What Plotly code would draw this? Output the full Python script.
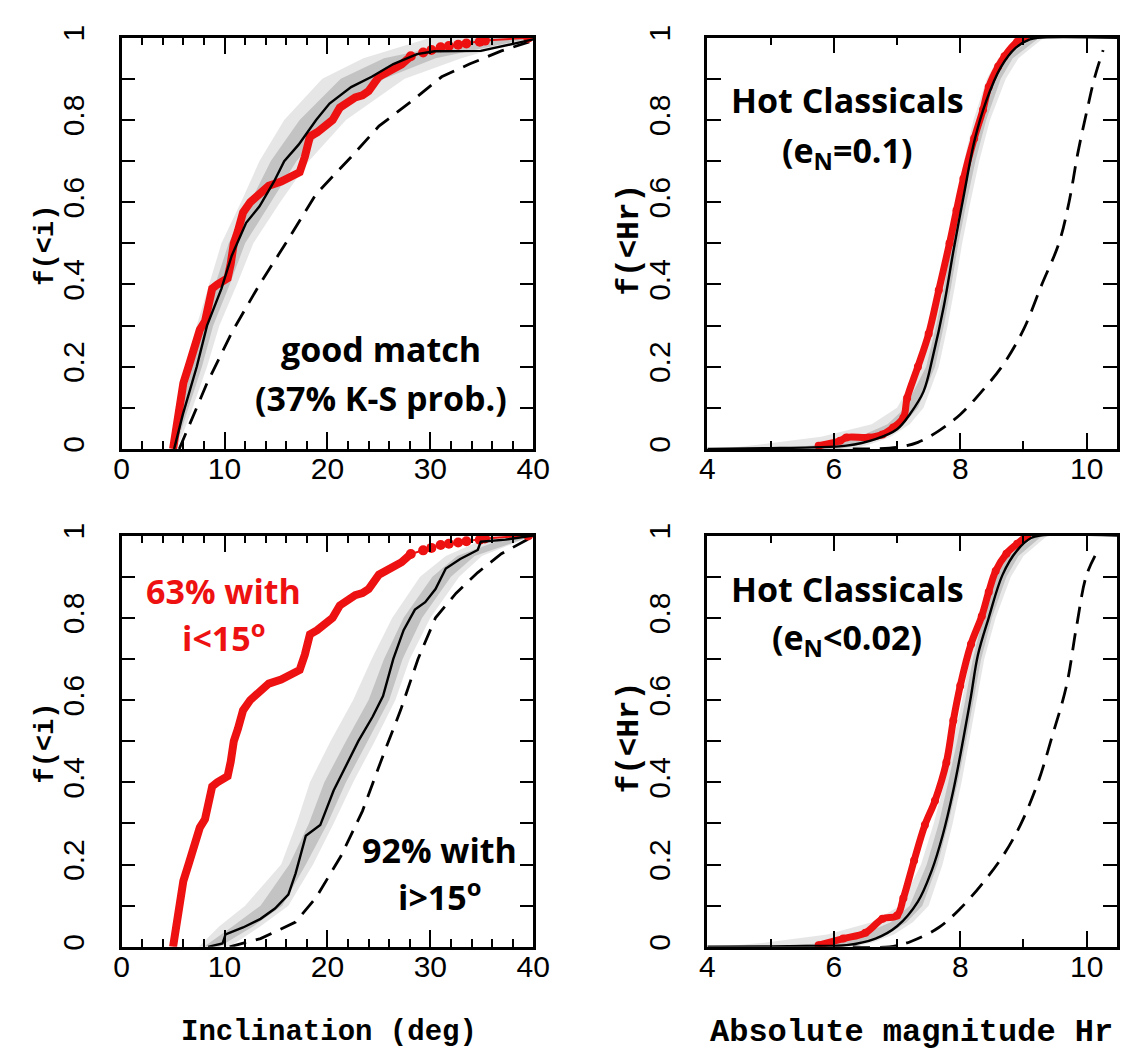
import plotly.graph_objects as go

# ---------------- data ----------------
# observed inclination CDF (red) - same sample in both left panels
inc_obs_x = [5.0, 5.5, 6.0, 6.5, 7.0, 7.6, 8.1, 8.5, 8.8, 9.3, 10.3, 10.6, 10.9, 11.3, 11.8, 12.5, 13.5,
             14.3, 15.5, 16.5, 17.3, 17.8, 18.3, 19.0, 19.6, 20.5, 21.2, 21.8, 22.7, 23.4, 24.0, 25.0,
             26.3, 27.2, 28.1, 29.3, 30.1, 31.0, 31.8, 32.7, 33.5, 34.8, 35.3, 39.5]
inc_obs_y = [0.0, 0.07, 0.16, 0.2, 0.24, 0.29, 0.31, 0.37, 0.39, 0.40, 0.415, 0.45, 0.50, 0.53, 0.575,
             0.60, 0.626, 0.64, 0.65, 0.66, 0.673, 0.71, 0.76, 0.77, 0.78, 0.80, 0.83, 0.84, 0.855, 0.86,
             0.87, 0.905, 0.92, 0.935, 0.955, 0.964, 0.97, 0.977, 0.98, 0.983, 0.986, 0.99, 0.993, 1.0]
inc_dots_from = 34  # index where the sparse tail (dots) begins

# top-left model (good match)
tl_model_x = [5.1, 5.95, 7.3, 8.3, 9.7, 10.7, 12.1, 13.4, 14.8, 15.8, 17.2, 18.9, 20.2, 22.3, 24.3, 26.4,
              28.7, 30.4, 34.9, 37.2, 40]
tl_model_y = [0, 0.084, 0.2, 0.3, 0.39, 0.47, 0.55, 0.59, 0.65, 0.70, 0.74, 0.80, 0.84, 0.88, 0.905,
              0.936, 0.96, 0.967, 0.968, 0.98, 0.996]
tl_intr_x = [5.6, 8.3, 10.7, 13.4, 16.2, 18.9, 22.3, 25.0, 28.4, 31.1, 33.8, 36.9, 39.6]
tl_intr_y = [0.0, 0.16, 0.283, 0.40, 0.51, 0.62, 0.71, 0.785, 0.85, 0.905, 0.936, 0.968, 0.99]
tl_band_y = [0, 0.1, 0.2, 0.3, 0.4, 0.5, 0.6, 0.7, 0.8, 0.9, 0.95, 1.0]
tl_outer_lo = [4.9, 5.5, 6.4, 7.3, 8.5, 9.7, 11.6, 13.4, 15.8, 19.5, 23.5, 30]
tl_outer_hi = [5.4, 6.9, 8.3, 9.5, 11.2, 12.8, 15.4, 18.2, 21.8, 27.5, 33, 40]
tl_inner_lo = [5.0, 5.8, 6.8, 7.8, 9.1, 10.4, 12.5, 14.5, 17.3, 21.3, 25.5, 35]
tl_inner_hi = [5.2, 6.5, 7.8, 8.9, 10.5, 12.0, 14.5, 17.0, 20.3, 25.5, 30.5, 40]

# bottom-left model (hot classicals)
bl_model_x = [8.4, 9.8, 10.1, 11.8, 13.5, 14.9, 16.2, 16.9, 17.9, 19.3, 20.6, 22.0, 23.0, 24.4, 25.4,
              26.4, 27.4, 28.5, 29.5, 30.5, 31.5, 32.9, 34.6, 34.9, 37.3, 40]
bl_model_y = [0, 0.008, 0.03, 0.047, 0.068, 0.093, 0.127, 0.178, 0.27, 0.296, 0.38, 0.45, 0.5, 0.56,
              0.61, 0.70, 0.77, 0.82, 0.838, 0.87, 0.92, 0.943, 0.965, 0.985, 0.99, 1.0]
bl_intr_x = [10.5, 13.5, 16.9, 18.9, 21.3, 23.4, 25.4, 27.1, 28.8, 30.5, 32.5, 34.6, 36.9, 39.7]
bl_intr_y = [0.0, 0.02, 0.06, 0.12, 0.22, 0.33, 0.465, 0.575, 0.70, 0.80, 0.86, 0.91, 0.956, 0.994]
bl_band_y = [0, 0.05, 0.1, 0.2, 0.3, 0.4, 0.5, 0.6, 0.7, 0.8, 0.9, 0.95, 1.0]
bl_outer_lo = [7.5, 9.5, 12.0, 15.5, 17.0, 18.3, 20.3, 22.5, 24.3, 26.3, 29.0, 31.5, 36]
bl_outer_hi = [10.5, 13.5, 16.2, 18.6, 20.6, 22.5, 24.6, 26.6, 28.0, 30.0, 32.8, 35, 40]
bl_inner_lo = [8.0, 10.8, 13.5, 16.3, 18.2, 19.7, 21.8, 24.0, 25.5, 27.4, 30.2, 32.6, 38]
bl_inner_hi = [9.5, 12.8, 15.6, 17.9, 20.0, 21.8, 23.9, 26.0, 27.3, 29.2, 32.0, 34.3, 40]

# top-right (e_N = 0.1) absolute magnitude
tr_obs_x = [5.76, 6.1, 6.2, 6.55, 6.77, 6.94, 7.1, 7.16, 7.33, 7.5, 7.66, 7.83, 7.94, 8.05, 8.22, 8.36,
            8.45, 8.6, 8.7, 8.9, 9.03]
tr_obs_y = [0.008, 0.02, 0.028, 0.028, 0.035, 0.052, 0.076, 0.124, 0.20, 0.28, 0.386, 0.50, 0.58, 0.657,
            0.755, 0.825, 0.88, 0.93, 0.955, 0.99, 1.0]
tr_model_x = [4.0, 5.0, 5.65, 6.2, 6.66, 7.0, 7.2, 7.42, 7.57, 7.74, 7.89, 8.06, 8.23, 8.41, 8.64, 8.88,
              9.1, 9.22, 10.48]
tr_model_y = [0.0, 0.002, 0.004, 0.008, 0.024, 0.048, 0.084, 0.14, 0.227, 0.347, 0.48, 0.62, 0.753,
              0.846, 0.928, 0.976, 0.996, 1.0, 1.0]
tr_intr_x = [6.3, 7.0, 7.33, 7.66, 8.0, 8.34, 8.67, 9.0, 9.29, 9.56, 9.72, 9.86, 10.0, 10.12, 10.26]
tr_intr_y = [0.0, 0.004, 0.016, 0.044, 0.084, 0.14, 0.203, 0.29, 0.40, 0.50, 0.60, 0.72, 0.82, 0.90, 0.97]

# bottom-right (e_N < 0.02) absolute magnitude
br_obs_x = [5.76, 6.15, 6.5, 6.77, 7.0, 7.1, 7.27, 7.44, 7.6, 7.78, 7.89, 8.0, 8.17, 8.34, 8.45, 8.56,
            8.73, 8.9, 9.06]
br_obs_y = [0.004, 0.02, 0.034, 0.068, 0.076, 0.118, 0.21, 0.296, 0.355, 0.448, 0.55, 0.635, 0.736,
            0.804, 0.863, 0.914, 0.956, 0.98, 1.0]
br_model_x = [4.0, 5.0, 5.65, 6.2, 6.66, 7.0, 7.33, 7.55, 7.72, 7.89, 8.05, 8.17, 8.28, 8.45, 8.67, 8.9,
              9.12, 9.26, 10.48]
br_model_y = [0.0, 0.001, 0.002, 0.004, 0.02, 0.05, 0.11, 0.186, 0.27, 0.38, 0.507, 0.61, 0.71, 0.80,
              0.905, 0.964, 0.994, 1.0, 1.0]
br_intr_x = [6.3, 6.88, 7.22, 7.66, 8.0, 8.34, 8.67, 8.95, 9.23, 9.45, 9.68, 9.84, 10.0, 10.2]
br_intr_y = [0.0, 0.0, 0.013, 0.047, 0.093, 0.152, 0.22, 0.296, 0.40, 0.51, 0.635, 0.78, 0.905, 0.97]

# bands for the magnitude panels
mag_band_y = [0.0, 0.01, 0.03, 0.06, 0.1, 0.2, 0.3, 0.4, 0.5, 0.6, 0.7, 0.8, 0.9, 0.95, 1.0]
tr_outer_lo = [4.2, 4.8, 5.8, 6.6, 7.0, 7.38, 7.55, 7.69, 7.81, 7.93, 8.06, 8.21, 8.42, 8.6, 9.12]
tr_outer_hi = [6.3, 6.55, 6.9, 7.2, 7.42, 7.66, 7.8, 7.92, 8.03, 8.16, 8.3, 8.47, 8.72, 8.92, 9.32]
tr_inner_lo = [5.0, 5.8, 6.4, 6.85, 7.13, 7.46, 7.62, 7.75, 7.87, 8.0, 8.12, 8.27, 8.49, 8.67, 9.17]
tr_inner_hi = [6.1, 6.4, 6.8, 7.1, 7.33, 7.6, 7.74, 7.86, 7.97, 8.1, 8.24, 8.41, 8.64, 8.83, 9.25]
br_outer_lo = [4.2, 4.9, 5.9, 6.6, 7.05, 7.38, 7.58, 7.75, 7.89, 8.03, 8.15, 8.3, 8.5, 8.68, 9.18]
br_outer_hi = [6.3, 6.6, 6.95, 7.25, 7.5, 7.72, 7.88, 8.02, 8.14, 8.26, 8.38, 8.56, 8.8, 9.0, 9.38]
br_inner_lo = [5.0, 5.9, 6.45, 6.9, 7.2, 7.47, 7.66, 7.81, 7.95, 8.08, 8.2, 8.36, 8.57, 8.76, 9.22]
br_inner_hi = [6.1, 6.45, 6.85, 7.15, 7.4, 7.64, 7.81, 7.96, 8.09, 8.21, 8.33, 8.5, 8.73, 8.92, 9.3]

y_tickvals = [0, 0.2, 0.4, 0.6, 0.8, 1.0]
y_ticktext = ["0", "0.2", "0.4", "0.6", "0.8", "1"]
inc_ticks = [0, 10, 20, 30, 40]
mag_ticks = [4, 6, 8, 10]

# ---------------- figure ----------------
W, H = 1129, 1053
RED = "#ee1111"
fig = go.Figure()


def band(xa, ya, lo, hi, ys, color):
    fig.add_trace(go.Scatter(x=list(lo) + list(hi)[::-1], y=list(ys) + list(ys)[::-1],
                             fill="toself", fillcolor=color, mode="none",
                             xaxis=xa, yaxis=ya, showlegend=False, hoverinfo="skip"))


def panel(xa, ya, outer_lo, outer_hi, inner_lo, inner_hi, by, mx, my, ix, iy, ox, oy, split, smooth):
    band(xa, ya, outer_lo, outer_hi, by, "rgba(205,205,205,0.5)")
    band(xa, ya, inner_lo, inner_hi, by, "rgba(160,160,160,0.5)")
    fig.add_trace(go.Scatter(x=ix, y=iy, mode="lines", xaxis=xa, yaxis=ya, showlegend=False,
                             line=dict(color="black", width=2.8, dash="17px,10px"),
                             line_shape="spline" if smooth else "linear"))
    if split is None:
        fig.add_trace(go.Scatter(x=ox, y=oy, mode="lines+markers", xaxis=xa, yaxis=ya, showlegend=False,
                                 line=dict(color=RED, width=7, shape="spline"),
                                 marker=dict(color=RED, size=8)))
    else:
        fig.add_trace(go.Scatter(x=ox[:split + 1], y=oy[:split + 1], mode="lines", xaxis=xa, yaxis=ya,
                                 showlegend=False, line=dict(color=RED, width=8)))
        fig.add_trace(go.Scatter(x=ox[split:], y=oy[split:], mode="lines+markers", xaxis=xa, yaxis=ya,
                                 showlegend=False, line=dict(color=RED, width=2),
                                 marker=dict(color=RED, size=10)))
    fig.add_trace(go.Scatter(x=mx, y=my, mode="lines", xaxis=xa, yaxis=ya, showlegend=False,
                             line=dict(color="black", width=2.4),
                             line_shape="spline" if smooth else "linear"))


panel("x", "y", tl_outer_lo, tl_outer_hi, tl_inner_lo, tl_inner_hi, tl_band_y,
      tl_model_x, tl_model_y, tl_intr_x, tl_intr_y, inc_obs_x, inc_obs_y, inc_dots_from, False)
panel("x2", "y2", tr_outer_lo, tr_outer_hi, tr_inner_lo, tr_inner_hi, mag_band_y,
      tr_model_x, tr_model_y, tr_intr_x, tr_intr_y, tr_obs_x, tr_obs_y, None, True)
panel("x3", "y3", bl_outer_lo, bl_outer_hi, bl_inner_lo, bl_inner_hi, bl_band_y,
      bl_model_x, bl_model_y, bl_intr_x, bl_intr_y, inc_obs_x, inc_obs_y, inc_dots_from, False)
panel("x4", "y4", br_outer_lo, br_outer_hi, br_inner_lo, br_inner_hi, mag_band_y,
      br_model_x, br_model_y, br_intr_x, br_intr_y, br_obs_x, br_obs_y, None, True)

# pixel geometry
LX0, LX1 = 108, 529
RX0, RX1 = 707, 1126
TY0, TY1 = 17, 435
BY0, BY1 = 523, 941


def hdom(a, b):
    return [a / W, b / W]


def vdom(top, bot):
    return [1 - bot / H, 1 - top / H]


tickfont = dict(family="Liberation Sans, Arial, sans-serif", size=30, color="black")
common_x = dict(showline=True, linecolor="black", linewidth=2.5, mirror="ticks", ticks="inside",
                tickcolor="black", tickwidth=2.2, showgrid=False, zeroline=False, tickfont=tickfont,
                ticklabelstandoff=-9)
common_y = dict(showline=True, linecolor="black", linewidth=2.5, mirror="ticks", ticks="inside",
                tickcolor="black", tickwidth=2.2, ticklen=14, showgrid=False, zeroline=False,
                tickfont=tickfont, range=[0, 1], tickvals=y_tickvals, ticktext=y_ticktext,
                tickangle=-90, ticklabelstandoff=23,
                minor=dict(dtick=0.1, tick0=0, ticks="inside", ticklen=14, tickwidth=2.2, tickcolor="black"))

inc_x = dict(common_x, range=[0, 40], tickvals=inc_ticks, ticklen=17,
             minor=dict(dtick=2, tick0=0, ticks="inside", ticklen=8, tickwidth=2.2, tickcolor="black"))
mag_x = dict(common_x, range=[4, 10.48], tickvals=mag_ticks, ticklen=16,
             minor=dict(dtick=1, tick0=0, ticks="inside", ticklen=8, tickwidth=2.2, tickcolor="black"))

fig.update_layout(
    width=W, height=H, margin=dict(l=0, r=0, t=0, b=0),
    paper_bgcolor="white", plot_bgcolor="white", showlegend=False,
    xaxis=dict(inc_x, domain=hdom(LX0, LX1), anchor="y"),
    yaxis=dict(common_y, domain=vdom(TY0, TY1), anchor="x"),
    xaxis2=dict(mag_x, domain=hdom(RX0, RX1), anchor="y2"),
    yaxis2=dict(common_y, domain=vdom(TY0, TY1), anchor="x2"),
    xaxis3=dict(inc_x, domain=hdom(LX0, LX1), anchor="y3"),
    yaxis3=dict(common_y, domain=vdom(BY0, BY1), anchor="x3"),
    xaxis4=dict(mag_x, domain=hdom(RX0, RX1), anchor="y4"),
    yaxis4=dict(common_y, domain=vdom(BY0, BY1), anchor="x4"),
)

ann_font = dict(family="Open Sans, sans-serif", size=34, color="black")
mono = dict(family="Liberation Mono, Courier New, monospace", color="black")
annotations = [
    dict(x=25.2, y=0.243, xref="x", yref="y", text="<b>good match</b>", font=ann_font),
    dict(x=25.2, y=0.124, xref="x", yref="y", text="<b>(37% K-S prob.)</b>", font=ann_font),
    dict(x=6.21, y=0.849, xref="x2", yref="y2", text="<b>Hot Classicals</b>", font=ann_font),
    dict(x=6.21, y=0.721, xref="x2", yref="y2", text="<b>(e<sub>N</sub>=0.1)</b>", font=ann_font),
    dict(x=9.9, y=0.866, xref="x3", yref="y3", text="<b>63% with</b>", font=dict(ann_font, color=RED)),
    dict(x=9.9, y=0.755, xref="x3", yref="y3", text="<b>i&lt;15<sup>o</sup></b>", font=dict(ann_font, color=RED)),
    dict(x=30.9, y=0.236, xref="x3", yref="y3", text="<b>92% with</b>", font=ann_font),
    dict(x=30.9, y=0.125, xref="x3", yref="y3", text="<b>i&gt;15<sup>o</sup></b>", font=ann_font),
    dict(x=6.21, y=0.871, xref="x4", yref="y4", text="<b>Hot Classicals</b>", font=ann_font),
    dict(x=6.21, y=0.749, xref="x4", yref="y4", text="<b>(e<sub>N</sub>&lt;0.02)</b>", font=ann_font),
    # axis titles
    dict(x=31 / W, y=1 - 228 / H, xref="paper", yref="paper", text="<b>f(&lt;i)</b>", textangle=-90,
         font=dict(mono, size=27)),
    dict(x=31 / W, y=1 - 734 / H, xref="paper", yref="paper", text="<b>f(&lt;i)</b>", textangle=-90,
         font=dict(mono, size=27)),
    dict(x=627 / W, y=1 - 222 / H, xref="paper", yref="paper", text="<b>f(&lt;Hr)</b>", textangle=-90,
         font=dict(mono, size=31)),
    dict(x=627 / W, y=1 - 728 / H, xref="paper", yref="paper", text="<b>f(&lt;Hr)</b>", textangle=-90,
         font=dict(mono, size=31)),
    dict(x=320 / W, y=1 - 1028 / H, xref="paper", yref="paper", text="<b>Inclination (deg)</b>",
         font=dict(mono, size=29)),
    dict(x=916 / W, y=1 - 1028 / H, xref="paper", yref="paper", text="<b>Absolute magnitude Hr</b>",
         font=dict(mono, size=32)),
]
for a in annotations:
    a.setdefault("showarrow", False)
    a.setdefault("xanchor", "center")
    a.setdefault("yanchor", "middle")
fig.update_layout(annotations=annotations)

fig.write_html("out.html")
